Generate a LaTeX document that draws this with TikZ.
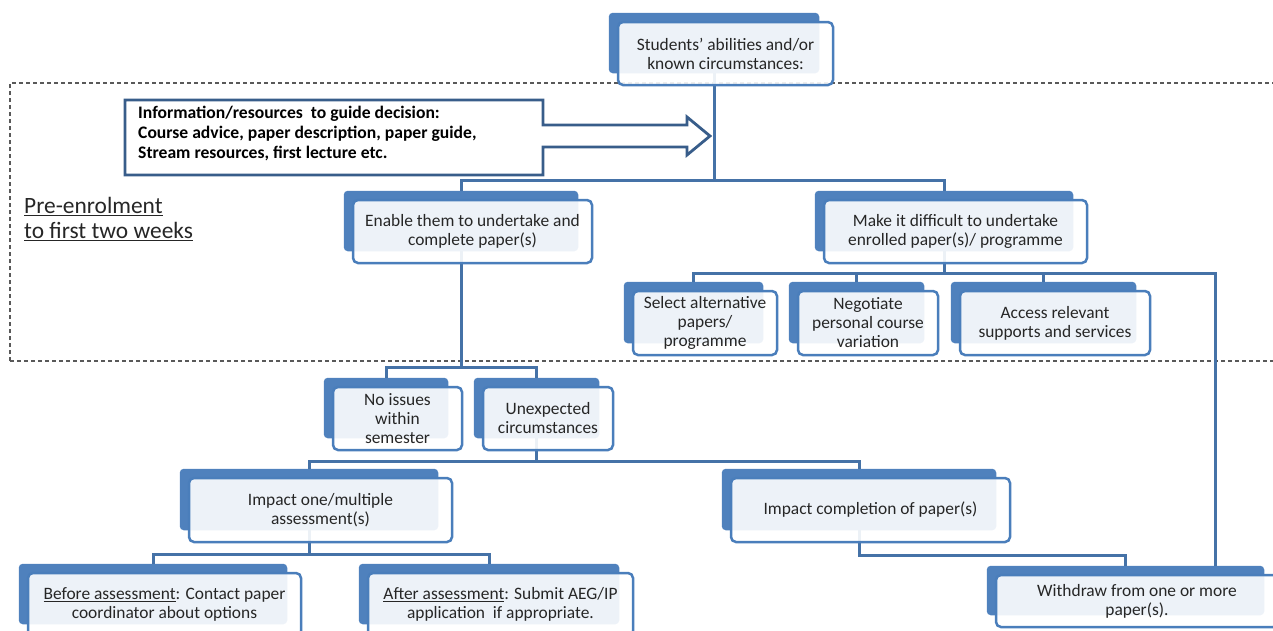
\documentclass[tikz,border=0pt]{standalone}
\usepackage{fontspec}
\setmainfont{Carlito}
\usetikzlibrary{backgrounds, fit}
\definecolor{boxback}{HTML}{4F81BD}
\definecolor{boxline}{HTML}{4A7EBB}
\definecolor{linkblue}{HTML}{4572A7}
\definecolor{infoline}{HTML}{385D8A}
\definecolor{txt}{HTML}{262626}

\begin{document}
\begin{tikzpicture}[x=1pt, y=-1pt,
        front/.style={draw=boxline, line width=2.5pt, rounded corners=5pt, fill=white, fill opacity=0.9, text opacity=1, text=txt, align=center, inner sep=0pt, font=\fontsize{17.4}{19}\selectfont},
        back/.style={fill=boxback, rounded corners=4pt, inner sep=0pt},
        link/.style={draw=linkblue, line width=3pt}]
        \useasboundingbox (0,0) rectangle (1273,630);
        \clip (0,0) rectangle (1273,630);

        \node[front, minimum width=215, minimum height=63] (S) at (725.5,53.5) {Students' abilities and/or\\known circumstances:};
        \node[front, minimum width=239, minimum height=63] (E) at (472.5,231.5) {Enable them to undertake and\\complete paper(s)};
        \node[front, minimum width=263, minimum height=63] (D) at (955.5,231.5) {Make it difficult to undertake\\enrolled paper(s)/ programme};
        \node[front, minimum width=144, minimum height=64] (A1) at (705,323) {Select alternative\\papers/\\programme};
        \node[front, minimum width=140, minimum height=64] (A2) at (868,323) {Negotiate\\personal course\\variation};
        \node[front, minimum width=190, minimum height=64] (A3) at (1055,323) {Access relevant\\supports and services};
        \node[front, minimum width=129, minimum height=63] (N) at (397.5,418.5) {No issues\\within\\semester};
        \node[front, minimum width=130, minimum height=63] (U) at (548,418.5) {Unexpected\\circumstances};
        \node[front, minimum width=263, minimum height=64] (I1) at (320.5,510) {Impact one/multiple\\assessment(s)};
        \node[front, minimum width=279, minimum height=64] (I2) at (870.5,510) {Impact completion of paper(s)};
        \node[front, minimum width=273, minimum height=63] (B) at (164.5,604.5) {\underline{Before assessment}: Contact paper\\coordinator about options};
        \node[front, minimum width=265, minimum height=63] (F) at (500.5,604.5) {\underline{After assessment}: Submit AEG/IP\\application~ if appropriate.};
        \node[front, minimum width=282, minimum height=52] (W) at (1137,601) {Withdraw from one or more\\paper(s).};

        \draw[infoline, line width=2.8pt, fill=white] (125,100) -- (543,100) -- (543,125) -- (687,125) -- (687,117) -- (710,136) -- (687,155) -- (687,147) -- (543,147) -- (543,175) -- (125,175) -- cycle;
        \node[anchor=west, align=left, inner sep=0pt, font=\bfseries\fontsize{17.6}{20}\selectfont] (Info) at (138,133) {Information/resources~ to guide decision:\\Course advice, paper description, paper guide,\\Stream resources, first lecture etc.};

        \node[anchor=north west, align=left, inner sep=0pt, text=txt, font=\fontsize{23.4}{25}\selectfont] (P) at (24,197) {\underline{Pre-enrolment}\\\underline{to first two weeks}};

        \begin{pgfonlayer}{background}
            \draw[gray!70!black, line width=1.2pt, dash pattern=on 4pt off 3pt] (10,361) -- (10,83) -- (1290,83) (10,361) -- (1290,361);
            \foreach \n in {S,E,D,A1,A2,A3,N,U,I1,I2,B,F,W}
                \node[back, fit={([shift={(-8,-8)}]\n.north west) ([shift={(-15,-13)}]\n.south east)}] (b\n) {};
            \coordinate (wtop) at (1215,0 |- bW.north);

            \draw[link] (bS.south) -- ++(0,107) coordinate (t1);
            \draw[link] (bE.north) |- (t1) -| (bD.north);
            \draw[link] (bE.south) -- ++(0,116) coordinate (t2);
            \draw[link] (bN.north) |- (t2) -| (bU.north);
            \draw[link] (bU.south) -- ++(0,23) coordinate (t3);
            \draw[link] (bI1.north) |- (t3) -| (bI2.north);
            \draw[link] (bI1.south) -- ++(0,24) coordinate (t4);
            \draw[link] (bB.north) |- (t4) -| (bF.north);
            \draw[link] (bD.south) -- ++(0,22) coordinate (t5);
            \draw[link] (bA1.north) |- (t5) -| (bA3.north);
            \draw[link] (t5) -| (bA2.north);
            \draw[link] (t5) -| (wtop);
            \draw[link] (bI2.south) -- ++(0,25) -| (bW.north);
        \end{pgfonlayer}
    \end{tikzpicture}
\end{document}
